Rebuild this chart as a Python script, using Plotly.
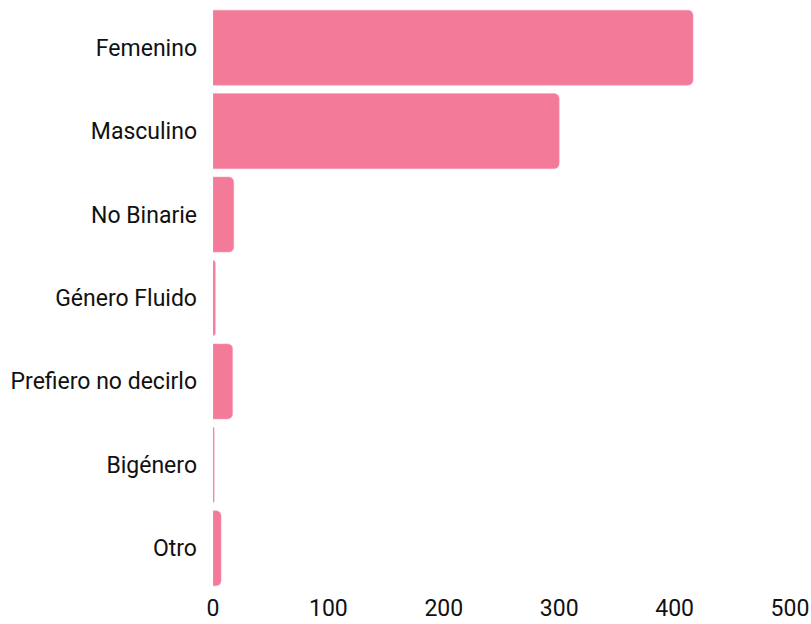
import plotly.graph_objects as go

categories = ["Femenino", "Masculino", "No Binarie", "Género Fluido",
              "Prefiero no decirlo", "Bigénero", "Otro"]
values = [416, 300, 18, 2, 17, 1, 7]
x_ticks = [0, 100, 200, 300, 400, 500]

fig = go.Figure(go.Bar(
    x=values,
    y=categories,
    orientation="h",
    marker=dict(color="#F47A9A", line=dict(color="#F7A0B8", width=0.5)),
))

fig.update_layout(
    width=811, height=624,
    margin=dict(l=213, r=21, t=6, b=34, autoexpand=False),
    paper_bgcolor="white", plot_bgcolor="white",
    font=dict(family="Roboto", size=23, color="#111111"),
    bargap=0.1,
    barcornerradius=5,
    showlegend=False,
    xaxis=dict(range=[0, 500], tickvals=x_ticks, showgrid=False, zeroline=False,
               showline=False, ticks="", ticklabelstandoff=2, automargin=False),
    yaxis=dict(autorange="reversed", showgrid=False, zeroline=False,
               showline=False, ticks="", ticklabelstandoff=15, automargin=False),
)

fig.write_html("out.html", config={"displayModeBar": False},
               post_script="document.body.style.margin='0';document.body.style.overflow='hidden';")
